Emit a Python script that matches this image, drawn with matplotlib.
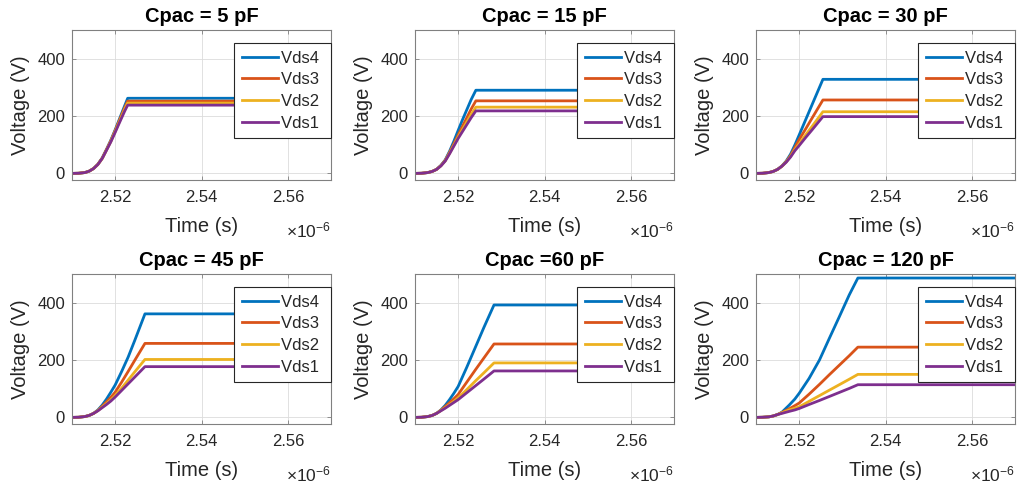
import matplotlib
matplotlib.use('Agg')
import matplotlib.pyplot as plt

plt.rcParams['font.family'] = ['Liberation Sans', 'DejaVu Sans']
plt.rcParams['mathtext.fontset'] = 'custom'
plt.rcParams['mathtext.rm'] = 'Liberation Sans'
plt.rcParams['mathtext.it'] = 'Liberation Sans'

titles = ['Cpac = 5 pF', 'Cpac = 15 pF', 'Cpac = 30 pF',
          'Cpac = 45 pF', 'Cpac =60 pF', 'Cpac = 120 pF']
series_names = ['Vds4', 'Vds3', 'Vds2', 'Vds1']
colors = ['#0072BD', '#D95319', '#EDB120', '#7E2F8E']

# time in units of 1e-6 s ; rows = Vds4, Vds3, Vds2, Vds1
t_5pF = [2.510, 2.5115, 2.513, 2.514, 2.515, 2.516, 2.517, 2.518, 2.519,
         2.520, 2.521, 2.5222, 2.5229, 2.570]
v_5pF = [[0, 0.5, 3, 8, 17, 32, 54, 84, 116, 152, 190, 236, 262, 262],
         [0, 0.5, 3, 8, 17, 32, 53, 83, 114, 149, 186, 229, 252, 252],
         [0, 0.5, 3, 8, 17, 31, 52, 82, 112, 146, 181, 223, 245, 245],
         [0, 0.5, 3, 8, 17, 31, 52, 81, 110, 143, 177, 217, 238, 238]]

t_15pF = [2.510, 2.5115, 2.513, 2.514, 2.515, 2.516, 2.517, 2.518, 2.519,
          2.520, 2.521, 2.522, 2.523, 2.5241, 2.570]
v_15pF = [[0, 0.5, 3, 7, 14, 28, 47, 77, 112, 150, 187, 222, 257, 290, 290],
          [0, 0.5, 3, 7, 14, 27, 45, 73, 103, 134, 164, 194, 224, 253, 253],
          [0, 0.5, 3, 7, 14, 27, 44, 70, 98, 127, 153, 179, 205, 231, 231],
          [0, 0.5, 3, 7, 14, 26, 43, 68, 95, 122, 146, 170, 194, 218, 218]]

t_30pF = [2.510, 2.5115, 2.513, 2.514, 2.515, 2.516, 2.517, 2.518, 2.519,
          2.520, 2.5215, 2.523, 2.5255, 2.570]
v_30pF = [[0, 0.5, 3, 7, 14, 26, 43, 67, 99, 134, 187, 240, 328, 328],
          [0, 0.5, 3, 7, 14, 25, 41, 62, 90, 118, 155, 193, 256, 256],
          [0, 0.5, 3, 7, 14, 25, 40, 59, 83, 103, 134, 164, 215, 215],
          [0, 0.5, 3, 7, 14, 25, 39, 57, 79, 97, 125, 152, 198, 198]]

t_45pF = [2.510, 2.5115, 2.513, 2.514, 2.515, 2.516, 2.517, 2.518, 2.519,
          2.520, 2.5215, 2.523, 2.5245, 2.5269, 2.570]
v_45pF = [[0, 0.5, 3, 7, 14, 26, 43, 64, 88, 113, 160, 210, 267, 361, 361],
          [0, 0.5, 3, 7, 14, 24, 39, 54, 70, 88, 123, 160, 198, 258, 258],
          [0, 0.5, 3, 7, 14, 24, 36, 48, 61, 76, 102, 130, 158, 202, 202],
          [0, 0.5, 3, 7, 14, 23, 34, 45, 57, 71, 94, 117, 140, 177, 177]]

t_60pF = [2.510, 2.5115, 2.513, 2.514, 2.515, 2.516, 2.517, 2.518, 2.519,
          2.520, 2.522, 2.524, 2.526, 2.5283, 2.570]
v_60pF = [[0, 0.5, 3, 7, 14, 26, 42, 62, 84, 108, 175, 245, 315, 392, 392],
          [0, 0.5, 3, 7, 14, 25, 38, 51, 65, 80, 123, 166, 208, 256, 256],
          [0, 0.5, 3, 7, 14, 24, 34, 45, 56, 68, 97, 127, 156, 190, 190],
          [0, 0.5, 3, 7, 14, 23, 32, 42, 52, 62, 86, 110, 134, 162, 162]]

t_120pF = [2.510, 2.5115, 2.513, 2.514, 2.515, 2.516, 2.5177, 2.519, 2.520,
           2.5223, 2.5247, 2.527, 2.5293, 2.5316, 2.5336, 2.570]
v_120pF = [[0, 0.5, 2, 5, 10, 18, 43, 64, 84, 136, 200, 276, 351, 427, 486, 486],
           [0, 0.5, 2, 5, 10, 17, 30, 41, 50, 81, 115, 149, 182, 215, 245, 245],
           [0, 0.5, 2, 5, 10, 16, 26, 32, 37, 56, 76, 95, 114, 133, 150, 150],
           [0, 0.5, 2, 5, 10, 14, 21, 26, 31, 45, 59, 73, 87, 101, 114, 114]]

times = [t_5pF, t_15pF, t_30pF, t_45pF, t_60pF, t_120pF]
values = [v_5pF, v_15pF, v_30pF, v_45pF, v_60pF, v_120pF]

xticks = [2.52, 2.54, 2.56]
xticklabels = ['2.52', '2.54', '2.56']
yticks = [0, 200, 400]

W, H = 1019, 488
fig = plt.figure(figsize=(W / 100, H / 100), dpi=100)

col_left = [72, 415, 756]
row_top = [30, 274]
aw, ah = 259, 150
axcol = '#262626'

for i in range(6):
    r, c = divmod(i, 3)
    ax = fig.add_axes([col_left[c] / W, 1 - (row_top[r] + ah) / H, aw / W, ah / H])
    for k in range(4):
        ax.plot(times[i], values[i][k], color=colors[k], lw=2.0,
                label=series_names[k] + ' ')
    ax.set_xlim(2.51, 2.57)
    ax.set_ylim(-23, 500)
    ax.set_xticks(xticks)
    ax.set_xticklabels(xticklabels)
    ax.set_yticks(yticks)
    ax.grid(True, color='#dcdcdc', lw=0.6)
    ax.set_axisbelow(True)
    for s in ax.spines.values():
        s.set_color('#808080')
        s.set_linewidth(0.8)
    ax.tick_params(direction='in', length=3, width=0.6, color='#808080',
                   labelsize=12, labelcolor=axcol, top=True, right=True)
    ax.tick_params(axis='x', pad=7)
    ax.tick_params(axis='y', pad=5)
    ax.set_title(titles[i], fontsize=14.5, fontweight='bold', color='black', pad=5.5)
    ax.set_xlabel('Time (s)', fontsize=14.5, color=axcol, labelpad=9)
    ax.set_ylabel('Voltage (V)', fontsize=14.5, color=axcol, labelpad=5)
    ax.text(1.0, -0.335, r'$\times10^{-6}$', transform=ax.transAxes,
            ha='right', va='center', fontsize=12.5, color=axcol)
    leg = ax.legend(loc='upper right', bbox_to_anchor=(1.0, 0.913),
                    borderaxespad=0, fontsize=12, frameon=True, fancybox=False,
                    framealpha=1, edgecolor=axcol, handlelength=2.2,
                    handletextpad=0.15, labelspacing=0.4, borderpad=0.45)
    leg.get_frame().set_linewidth(0.8)
    for txt in leg.get_texts():
        txt.set_color(axcol)

fig.savefig('out.png', dpi=100)
